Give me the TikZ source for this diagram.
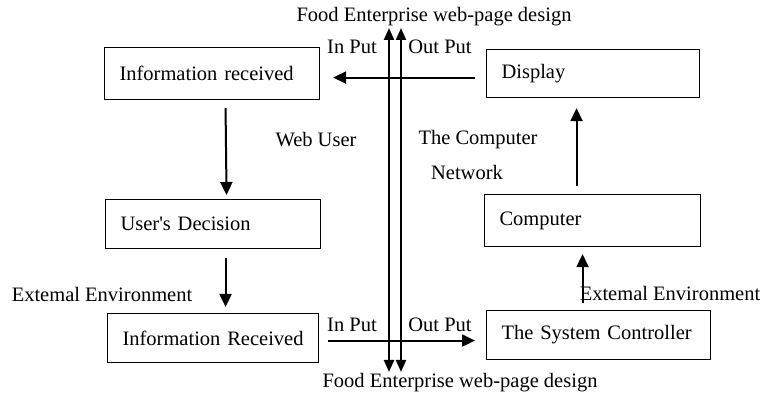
\documentclass[tikz,border=0pt]{standalone}
\usepackage{fontspec}
\setmainfont{Liberation Serif}
\usepackage{tikz}
\usetikzlibrary{arrows.meta}
\usetikzlibrary{positioning}
\newcommand{\labelsize}{\fontsize{20.5}{24}\selectfont}
\tikzset{
  box/.style={draw, line width=1.1pt, font=\labelsize, inner xsep=15pt, inner ysep=0pt, align=left, anchor=north west},
  lbl/.style={font=\labelsize, inner sep=0pt},
  arr/.style={line width=2pt, -{Triangle[length=13pt,width=12pt]}},
  dblarr/.style={line width=2pt, {Triangle[length=12pt,width=10pt]}-{Triangle[length=12pt,width=10pt]}},
}
\begin{document}
\begin{tikzpicture}[x=1pt, y=-1pt]
      \useasboundingbox (0,0) rectangle (764,398);

      % boxes of the web user side
      \node[box, text width=185pt, minimum height=52pt] (inforec) at (104,47) {Information received};
      \node[box, text width=185pt, minimum height=49pt] (userdec) at (105,199) {User\textquotesingle s Decision};
      \node[box, inner xsep=6pt, text width=199pt, minimum height=49pt, align=center] (inforec2) at (107,313) {Information Received};

      % boxes of the computer network side
      \node[box, text width=183pt, minimum height=48pt] (display) at (486,49) {Display};
      \node[box, text width=186pt, minimum height=52pt] (computer) at (484,194) {Computer};
      \node[box, text width=194pt, minimum height=49pt] (sysctrl) at (486,310) {The System Controller};

      % labels
      \node[lbl] (toptitle) at (434,17) {Food Enterprise web-page design};
      \node[lbl] (bottitle) at (460,383) {Food Enterprise web-page design};
      \node[lbl] (intop) at (352,47) {In Put};
      \node[lbl] (outtop) at (440,47) {Out Put};
      \node[lbl] (inbot) at (352,325) {In Put};
      \node[lbl] (outbot) at (440,325) {Out Put};
      \node[lbl] (webuser) at (316,140) {Web User};
      \node[lbl] (neta) at (478,140) {The Computer};
      \node[lbl] (netb) at (467,172) {Network};
      \node[lbl] (extleft) at (102,294) {Extemal Environment};
      \node[lbl] (extright) at (670,293) {Extemal Environment};

      % free ends of the two long lines
      \coordinate (ltop) at (389,28);
      \coordinate (lbot) at (389,372);
      \coordinate (rtop) at (401,28);
      \coordinate (rbot) at (401,372);

      \draw[dblarr] (ltop) -- (lbot);
      \draw[dblarr] (rtop) -- (rbot);

      % flow arrows
      \draw[arr] ([xshift=13.5pt,yshift=-8pt]inforec.south) -- ([xshift=13.5pt,yshift=4pt]userdec.north);
      \draw[arr] ([xshift=12.5pt,yshift=-9pt]userdec.south) -- ([xshift=12.5pt,yshift=6pt]inforec2.north);
      \draw[arr] ([xshift=9pt,yshift=-2.5pt]inforec2.east) -- ([xshift=-11pt,yshift=-5.5pt]sysctrl.west);
      \draw[arr] ([xshift=-16pt,yshift=7pt]sysctrl.north) -- ([xshift=-10pt,yshift=-7pt]computer.south);
      \draw[arr] ([xshift=-16pt,yshift=8pt]computer.north) -- ([xshift=-16.5pt,yshift=-10pt]display.south);
      \draw[arr] ([xshift=-11pt,yshift=-4pt]display.west) -- ([xshift=13pt,yshift=-4pt]inforec.east);
\end{tikzpicture}
\end{document}
